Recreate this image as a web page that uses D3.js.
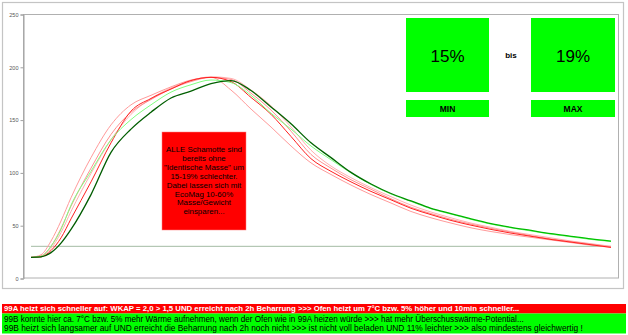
<!DOCTYPE html>
<html><head><meta charset="utf-8">
<script src="https://cdn.jsdelivr.net/npm/d3@7"></script>
<style>
html,body{margin:0;padding:0;background:#fff;}
svg{display:block;font-family:"Liberation Sans",Arial,sans-serif;}
</style></head>
<body><svg id="c" width="628" height="335"></svg>
<script>
// time steps (x positions, arbitrary units)
const zeit = [0,0.5,1,1.5,2,3,4,5,6,7,8,9,10,11,12,13,14,15,16,17,18,19,20,21,22,23,24,25,26,27,28,29];
// series values
const rosa3   = [19.5,20.5,28,43,63,99,131,155,170,180,187,190.5,189,178,163,143,121,106,95,85.5,77,69,62.5,57,52,48,44,41,38,35,32.5,30];
const rosa2   = [19.5,21,30,47,68,104,136,157,169,179,186,190,188,175,159,139,117,104,93,84,75,67,61,55.5,51,47,43.5,40,37,34.5,32,29.5];
const rosa1   = [19.5,22,35,54,76,114,145,164,173,181,187.5,190,178,160,143,125,109,98,88,79,71,63,57,52,47.5,44,41,38.5,36,33.5,31,29];
const rot     = [19.5,20,26,38,56,91,128,158,170,179,187,190,186,171,155,134,113,101,91,82,74,66,60,54.5,50,46,42.5,39.5,36.5,34,31.5,29];
const hellgruen = [19.5,20.5,30,46,69,101,131,150,164,176,183,187.5,185,173,156,141,125,112,99.5,88.5,79.5,72.5,65.5,60.5,55.5,51,47.5,44.5,41.5,39,36.5,34.5];
const gruen   = [19.5,20,24,33,46,79,119,141,157,170.5,177,184,187,177.5,162,146,128,114,100,89,80,73,66,61,56,51.5,48,45,42,39.5,37,35];
const referenz = 30;
const yTicks = [0,50,100,150,200,250];
const minWert = "15%", maxWert = "19%";
const boxText = ["ALLE Schamotte sind","bereits ohne","\"Identische Masse\" um","15-19% schlechter.","Dabei lassen sich mit","EcoMag 10-60%","Masse/Gewicht","einsparen..."];
const zeileRot = "99A heizt sich schneller auf: WKAP = 2,0 > 1,5 UND erreicht nach 2h Beharrung >>> Ofen heizt um 7°C bzw. 5% höher und 10min schneller...";
const zeilenGruen = [
 "99B konnte hier ca. 7°C bzw. 5% mehr Wärme aufnehmen, wenn der Ofen wie in 99A heizen würde >>> hat mehr Überschusswärme-Potential...",
 "99B heizt sich langsamer auf UND erreicht die Beharrung nach 2h noch nicht >>> ist nicht voll beladen UND 11% leichter >>> also mindestens gleichwertig !"
];

const svg = d3.select("#c");
// outer frame
svg.append("rect").attr("x",2.5).attr("y",2.5).attr("width",621).attr("height",286)
  .attr("fill","#fff").attr("stroke","#c4c4c4").attr("stroke-width",1.2);

const x = d3.scaleLinear().domain([0,29]).range([31,611]);
const y = d3.scaleLinear().domain([0,250]).range([278,14]);

// plot frame
svg.append("rect").attr("x",23.5).attr("y",14.5).attr("width",595).attr("height",263.5)
  .attr("fill","none").attr("stroke","#b0b0b0").attr("stroke-width",1);

const ax = svg.append("g").attr("transform","translate(23.5,0.5)")
  .call(d3.axisLeft(y).tickValues(yTicks).tickSize(3).tickPadding(2));
ax.select(".domain").attr("stroke","#a0a0a0");
ax.selectAll(".tick line").attr("stroke","#a0a0a0");
ax.selectAll("text").attr("font-size",5.5).attr("fill","#555").attr("font-family","Liberation Sans, Arial, sans-serif");

// reference line
svg.append("line").attr("x1",x(0)).attr("x2",x(29)).attr("y1",y(referenz)).attr("y2",y(referenz))
  .attr("stroke","#a3bba3").attr("stroke-width",1);

const defs = svg.append("defs");
const grad = defs.append("linearGradient").attr("id","gg").attr("gradientUnits","userSpaceOnUse")
  .attr("x1",31).attr("x2",611).attr("y1",0).attr("y2",0);
[[0,"#005a00"],[0.55,"#006400"],[0.72,"#00b400"],[1,"#00c400"]].forEach(s=>
  grad.append("stop").attr("offset",s[0]).attr("stop-color",s[1]));

const line = d3.line().x((d,i)=>x(zeit[i])).y(d=>y(d)).curve(d3.curveMonotoneX);
const series = [
  {v:rosa3, c:"#ffb0b0", w:1},
  {v:rosa2, c:"#ff9090", w:1},
  {v:rosa1, c:"#ff9a9a", w:1},
  {v:rot, c:"#ff2020", w:1},
  {v:hellgruen, c:"#80ff80", w:1},
  {v:gruen, c:"url(#gg)", w:1.3}
];
svg.append("g").selectAll("path").data(series).join("path")
  .attr("d",d=>line(d.v)).attr("fill","none").attr("stroke",d=>d.c).attr("stroke-width",d=>d.w);

// red note box
svg.append("rect").attr("x",162).attr("y",132).attr("width",84).attr("height",98).attr("fill","#ff0000")
  .attr("stroke","#ff8080").attr("stroke-width",0.5);
svg.append("g").selectAll("text").data(boxText).join("text")
  .attr("x",204).attr("y",(d,i)=>152+i*8.9).attr("text-anchor","middle")
  .attr("font-size",7.9).attr("fill","#000").text(d=>d);

// MIN / MAX boxes
const boxes = [{x:406,w:83,v:minWert,l:"MIN"},{x:531,w:84,v:maxWert,l:"MAX"}];
boxes.forEach(b=>{
  svg.append("rect").attr("x",b.x).attr("y",18).attr("width",b.w).attr("height",74).attr("fill","#00ff00");
  svg.append("text").attr("x",b.x+b.w/2).attr("y",61.5).attr("text-anchor","middle")
    .attr("font-size",17).attr("fill","#000").text(b.v);
  svg.append("rect").attr("x",b.x).attr("y",100).attr("width",b.w).attr("height",17).attr("fill","#00ff00");
  svg.append("text").attr("x",b.x+b.w/2).attr("y",111.5).attr("text-anchor","middle")
    .attr("font-size",8.5).attr("font-weight","bold").attr("fill","#000").text(b.l);
});
svg.append("text").attr("x",511).attr("y",58).attr("text-anchor","middle")
  .attr("font-size",8).attr("font-weight","bold").attr("fill","#000").text("bis");

// bottom bars
svg.append("rect").attr("x",2).attr("y",304).attr("width",624).attr("height",9.5).attr("fill","#ff0000");
svg.append("rect").attr("x",2).attr("y",313.5).attr("width",624).attr("height",20).attr("fill","#00ff00");

function fitText(sel, prefix, target){
  // scale font so that 'prefix' spans 'target' px
  const t = svg.append("text").attr("font-size",10).attr("font-weight",sel.attr("font-weight")).text(prefix);
  const w = t.node().getComputedTextLength(); t.remove();
  sel.attr("font-size", 10*target/w);
}
const tr = svg.append("text").attr("x",4).attr("y",311.3).attr("fill","#fff").attr("font-weight","bold").text(zeileRot);
fitText(tr, "99A heizt sich schneller auf: WKAP = 2,0 > 1,5 UND erreicht nach 2h Beharrung >>> ", 308);
const g1 = svg.append("text").attr("x",4).attr("y",321.6).attr("fill","#000").attr("font-weight","normal").text(zeilenGruen[0]);
fitText(g1, "99B konnte hier ca. 7°C bzw. 5% mehr Wärme aufnehmen, wenn der Ofen wie in 99A ", 309);
const g2 = svg.append("text").attr("x",4).attr("y",330.6).attr("fill","#000").attr("font-weight","normal").text(zeilenGruen[1]);
fitText(g2, "99B heizt sich langsamer auf UND erreicht die Beharrung nach 2h noch nicht >>> ist ", 313);
</script></body></html>
